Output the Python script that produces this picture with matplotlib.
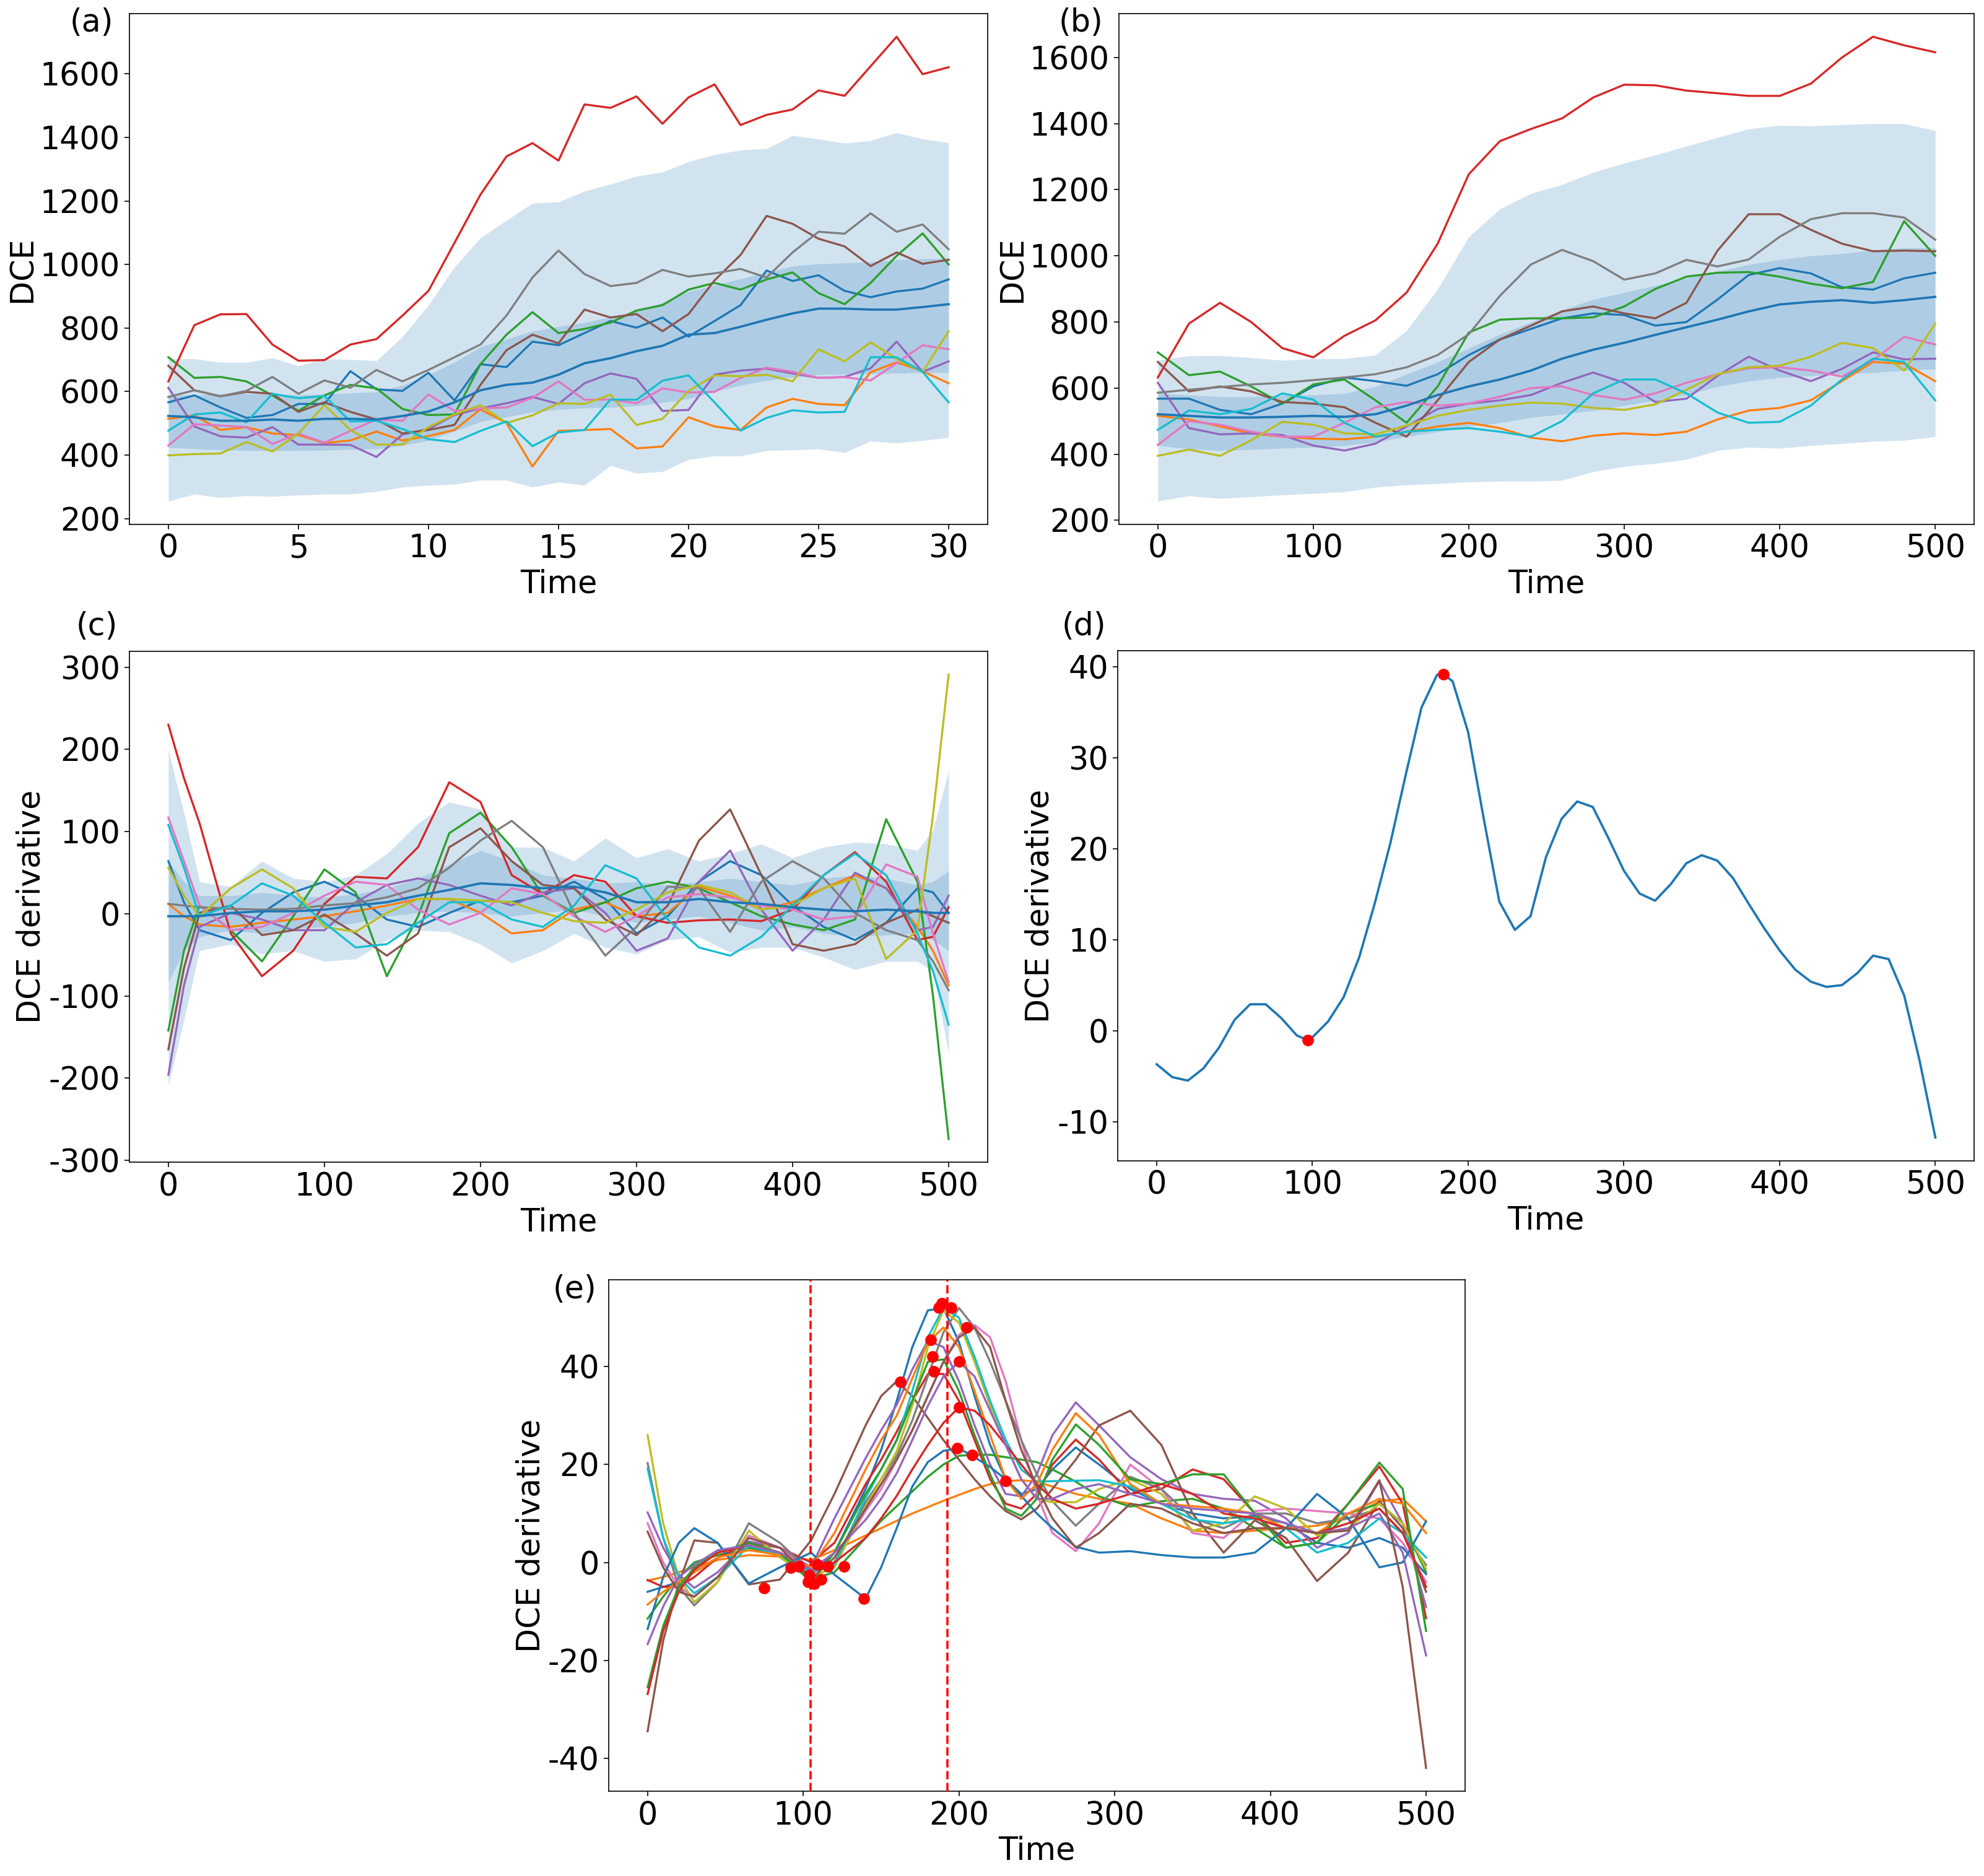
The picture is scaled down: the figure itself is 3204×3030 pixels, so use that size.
import numpy as np
import matplotlib
matplotlib.use("Agg")
import matplotlib.pyplot as plt

plt.rcParams["font.family"] = ["DejaVu Sans"]
plt.rcParams["font.size"] = 36.5
plt.rcParams["axes.unicode_minus"] = False
plt.rcParams["axes.linewidth"] = 1.2
plt.rcParams["xtick.major.size"] = 5.8
plt.rcParams["ytick.major.size"] = 5.8
plt.rcParams["xtick.major.width"] = 1.2
plt.rcParams["ytick.major.width"] = 1.2
plt.rcParams["xtick.major.pad"] = 5
plt.rcParams["ytick.major.pad"] = 5
plt.rcParams["lines.solid_joinstyle"] = "round"

# ---------------- panel (a): raw DCE curves, 31 time points ----------------
a_time = np.arange(31)
a_blue = [566, 588, 550, 517, 526, 561, 561, 664, 607, 602, 659, 572, 686, 677, 757, 746,
          784, 822, 801, 833, 773, 822, 872, 981, 948, 966, 917, 897, 915, 924, 953]
a_orange = [514, 525, 479, 488, 468, 463, 438, 446, 474, 446, 460, 479, 544, 501, 364, 476,
            479, 482, 421, 427, 519, 490, 479, 550, 577, 561, 557, 661, 692, 664, 626]
a_green = [708, 643, 646, 632, 588, 539, 588, 621, 610, 545, 526, 528, 686, 779, 850, 784,
           797, 817, 855, 872, 921, 942, 921, 953, 975, 910, 875, 942, 1027, 1098, 1000]
a_red = [632, 809, 843, 844, 748, 697, 699, 748, 765, 839, 917, 1068, 1220, 1340, 1382, 1327,
         1504, 1493, 1529, 1443, 1526, 1567, 1439, 1471, 1488, 1548, 1531, 1624, 1717, 1599, 1621]
a_purple = [612, 490, 459, 455, 488, 433, 433, 432, 394, 465, 482, 526, 547, 563, 583, 561,
            626, 657, 640, 539, 542, 653, 666, 672, 657, 643, 646, 673, 757, 662, 695]
a_brown = [681, 604, 585, 599, 593, 536, 566, 536, 512, 468, 479, 495, 621, 730, 779, 752,
           858, 833, 844, 790, 844, 950, 1030, 1153, 1128, 1081, 1057, 995, 1038, 1002, 1015]
a_pink = [430, 497, 493, 488, 435, 468, 439, 476, 512, 508, 591, 539, 547, 550, 580, 632,
          574, 575, 563, 610, 597, 599, 643, 675, 662, 643, 645, 635, 689, 746, 733]
a_gray = [583, 604, 585, 602, 646, 593, 635, 612, 668, 632, 668, 708, 748, 839, 959, 1044,
          970, 932, 942, 983, 962, 972, 986, 959, 1038, 1103, 1097, 1161, 1103, 1126, 1048]
a_olive = [399, 403, 405, 441, 411, 468, 557, 479, 433, 433, 488, 528, 557, 501, 525, 563,
           561, 590, 495, 514, 602, 651, 648, 653, 632, 733, 695, 755, 703, 662, 790]
a_cyan = [477, 528, 534, 503, 593, 579, 586, 506, 508, 482, 450, 441, 476, 506, 428, 471,
          479, 575, 574, 634, 651, 566, 477, 517, 541, 534, 536, 708, 708, 662, 566]
a_mean = [523, 519, 508, 508, 512, 508, 514, 514, 512, 523, 537, 566, 604, 621, 628, 653,
          689, 705, 727, 744, 779, 784, 804, 826, 846, 861, 861, 858, 858, 866, 875]
a_in_hi = [588, 590, 592, 594, 592, 590, 592, 595, 599, 620, 653, 692, 741, 765, 790, 805,
           817, 835, 855, 880, 915, 935, 955, 975, 995, 1002, 1005, 1008, 1015, 1018, 1019]
a_in_lo = [424, 420, 416, 414, 414, 414, 415, 418, 419, 430, 446, 475, 505, 520, 535, 544,
           548, 550, 555, 565, 577, 600, 620, 635, 645, 653, 655, 656, 658, 659, 659]
a_out_hi = [703, 703, 692, 692, 706, 681, 703, 701, 697, 773, 872, 992, 1084, 1139, 1193, 1197,
            1231, 1253, 1278, 1291, 1324, 1346, 1360, 1365, 1406, 1395, 1382, 1390, 1415, 1395, 1384]
a_out_lo = [255, 277, 266, 272, 270, 274, 277, 277, 285, 299, 305, 308, 321, 321, 299, 315,
            305, 367, 343, 348, 386, 397, 397, 414, 416, 419, 408, 444, 438, 446, 455]

# ---------------- panel (b): smoothed DCE curves ----------------
b_time = np.arange(0, 501, 20)
b_blue = [568, 568, 534, 521, 553, 605, 632, 621, 607, 642, 700, 747, 779, 811, 826, 821,
          789, 800, 868, 942, 963, 947, 905, 898, 932, 949]
b_orange = [516, 505, 484, 463, 453, 447, 445, 453, 468, 484, 495, 479, 450, 439, 456, 463,
            458, 468, 505, 532, 540, 563, 621, 679, 674, 621]
b_green = [708, 639, 650, 605, 553, 611, 626, 563, 495, 605, 768, 807, 811, 811, 814, 847,
           900, 937, 949, 951, 937, 916, 902, 921, 1105, 1000]
b_red = [632, 795, 858, 800, 721, 693, 758, 805, 889, 1037, 1247, 1347, 1384, 1416, 1479, 1518,
         1516, 1500, 1492, 1484, 1484, 1521, 1600, 1663, 1637, 1616]
b_purple = [616, 479, 460, 463, 458, 426, 411, 432, 484, 537, 553, 563, 579, 616, 647, 616,
            558, 568, 637, 695, 653, 621, 658, 708, 687, 689]
b_brown = [679, 590, 605, 590, 558, 553, 542, 495, 453, 563, 679, 747, 789, 832, 847, 826,
           811, 858, 1016, 1126, 1126, 1079, 1037, 1014, 1016, 1014]
b_pink = [428, 500, 489, 468, 453, 453, 495, 542, 558, 547, 553, 574, 600, 605, 579, 565,
          584, 616, 642, 660, 663, 653, 635, 684, 755, 732]
b_gray = [586, 595, 603, 611, 616, 624, 632, 642, 663, 700, 763, 879, 974, 1018, 984, 928,
          947, 988, 968, 989, 1058, 1111, 1129, 1129, 1116, 1049]
b_olive = [395, 414, 395, 442, 498, 489, 463, 460, 487, 516, 534, 547, 556, 553, 540, 534,
           551, 595, 642, 663, 668, 695, 737, 721, 653, 795]
b_cyan = [474, 532, 521, 537, 584, 565, 495, 453, 468, 474, 479, 468, 453, 500, 584, 626,
          626, 584, 526, 495, 498, 547, 626, 689, 679, 563]
b_mean = [521, 516, 511, 511, 513, 516, 513, 521, 547, 579, 605, 626, 653, 689, 716, 737,
          761, 784, 807, 832, 853, 861, 866, 858, 866, 876]
b_in_hi = [584, 579, 574, 574, 579, 579, 584, 605, 642, 679, 721, 763, 800, 837, 868, 889,
           911, 932, 953, 974, 989, 1000, 1007, 1018, 1024, 1024]
b_in_lo = [426, 416, 411, 414, 418, 421, 426, 437, 453, 468, 484, 495, 511, 521, 532, 547,
           563, 579, 605, 621, 632, 637, 642, 647, 653, 658]
b_out_hi = [684, 698, 698, 692, 684, 689, 689, 700, 774, 900, 1058, 1142, 1189, 1216, 1253, 1281,
            1305, 1332, 1358, 1384, 1395, 1393, 1397, 1400, 1400, 1379]
b_out_lo = [258, 274, 266, 271, 277, 281, 286, 300, 307, 311, 316, 318, 318, 321, 347, 363,
            372, 384, 411, 421, 418, 426, 432, 439, 442, 453]

# ---------------- panel (c): derivatives ----------------
c_time = [0, 10, 20, 40, 60, 80, 100, 120, 140, 160, 180, 200, 220, 240, 260, 280, 300, 320,
          340, 360, 380, 400, 420, 440, 460, 480, 490, 500]
c_blue = [64, 14, -20, -32, 1, 26, 39, 22, -7, -16, 1, 16, 14, 22, 39, 18, -24, -3, 39, 64,
          47, 10, -16, -32, -11, 31, 26, 1]
c_orange = [12, -3, -13, -16, -11, -7, -3, 3, 10, 18, 18, 1, -24, -20, 5, 14, -3, 1, 33, 22,
            5, 14, 31, 47, 31, -16, -45, -87]
c_green = [-142, -45, 10, -20, -58, -3, 54, 26, -76, -3, 98, 123, 81, 22, 1, 14, 31, 39, 31, 14,
           -3, -13, -20, -7, 115, 39, -100, -274]
c_red = [230, 165, 110, -24, -76, -45, 12, 45, 43, 81, 160, 136, 47, 24, 47, 39, -3, -11, -8, -7,
         -9, 5, 47, 75, 39, -32, -28, 8]
c_purple = [-196, -87, -16, 1, -7, -20, -20, 14, 35, 43, 35, 22, 10, 26, 31, 1, -45, -30, 39, 77,
            5, -45, -7, 50, 31, -20, -16, 22]
c_brown = [-165, -66, 1, 10, -26, -20, -1, -24, -51, -24, 81, 104, 64, 35, 31, -7, -26, 10, 89, 127,
           47, -37, -45, -37, -11, 5, -3, -11]
c_pink = [117, 64, 10, -20, -16, 1, 22, 39, 35, 5, -13, 1, 31, 24, -3, -22, -3, 20, 24, 20,
          10, 5, -7, -3, 60, 45, -24, -83]
c_gray = [12, 10, 8, 6, 5, 6, 10, 13, 20, 31, 56, 89, 113, 81, 1, -51, -16, 33, 31, -22,
          39, 64, 43, 1, -20, -32, -58, -93]
c_olive = [56, 22, -3, 31, 54, 31, -16, -22, 1, 18, 18, 16, 14, 1, -9, -11, 5, 26, 35, 26,
           5, 10, 31, 43, -55, -20, 120, 291]
c_cyan = [108, 56, -3, 10, 37, 22, -11, -41, -37, -11, 14, 14, -7, -16, 10, 59, 43, -7, -41, -51,
          -28, 10, 47, 73, 47, -24, -70, -135]
c_mean = [-3, -3, -3, 1, 3, 3, 5, 10, 14, 22, 29, 37, 35, 31, 33, 26, 14, 14, 18, 14,
          12, 8, 5, 3, 5, 3, 1, 1]
c_in_hi = [64, 39, 22, 22, 26, 22, 20, 24, 31, 43, 60, 77, 64, 47, 43, 37, 39, 35, 39, 43,
           39, 35, 43, 47, 43, 35, 39, 52]
c_in_lo = [-83, -45, -28, -20, -24, -18, -16, -11, -3, 1, 3, 1, -3, 1, 5, -3, -11, -7, -3, -11,
           -20, -16, -24, -28, -26, -24, -32, -45]
c_out_hi = [199, 123, 39, 33, 64, 43, 39, 47, 73, 110, 136, 127, 81, 81, 64, 92, 68, 79, 64, 73,
            85, 68, 81, 87, 85, 77, 102, 174]
c_out_lo = [-209, -129, -45, -37, -49, -45, -58, -55, -32, -20, -22, -37, -60, -45, -24, -41, -49, -32,
            -28, -47, -41, -41, -53, -68, -58, -58, -70, -170]

# ---------------- panel (d): one derivative curve ----------------
d_time = [0, 10, 20, 30, 40, 50, 60, 70, 80, 90, 97, 100, 110, 120, 130, 140, 150, 160, 170, 180,
          184, 190, 200, 210, 220, 230, 240, 250, 260, 270, 280, 290, 300, 310, 320, 330, 340,
          350, 360, 370, 380, 390, 400, 410, 420, 430, 440, 450, 460, 470, 480, 490, 500]
d_vals = [-3.66, -5.07, -5.45, -4.11, -1.83, 1.22, 2.93, 2.93, 1.41, -0.5, -1.0, -0.69, 1.03, 3.7,
          8.08, 14.0, 20.6, 28.2, 35.5, 39.1, 39.2, 38.4, 32.8, 23.3, 14.2, 11.1, 12.6, 19.1, 23.3,
          25.2, 24.6, 21.2, 17.6, 15.1, 14.3, 16.1, 18.4, 19.3, 18.7, 16.8, 14.0, 11.3, 8.84, 6.74,
          5.41, 4.84, 5.03, 6.36, 8.27, 7.89, 3.89, -3.35, -11.7]
d_dot_t = [97, 184]
d_dot_v = [-1.0, 39.2]

# ---------------- panel (e): derivative curves of all cases ----------------
e_time = [0, 10, 20, 30, 45, 65, 85, 105, 120, 140, 150, 160, 170, 180, 190, 200, 210, 220,
          230, 240, 250, 260, 275, 290, 310, 330, 350, 370, 390, 410, 430, 450, 470, 485, 500]
e_blue1 = [-6, -5, -4, -2, 1, 3, 1.5, -2.5, 2, 15, 23, 33, 44, 51.5, 52, 45, 34, 24, 17, 14, 15, 19,
           23.5, 20, 15, 12, 10, 9, 9.5, 8, 4, 3, 5, 3, -2.4]
e_orange1 = [-3.7, -3, -2, -1, 0.5, 1.5, 1.2, 0.5, 2.5, 5.5, 7, 8.5, 10, 11.3, 12.6, 13.8, 15, 16,
             16.6, 16.8, 16.5, 15.5, 14, 13, 12, 9, 6.5, 6, 6.5, 7, 7.5, 9, 12.5, 13, 8.4]
e_green1 = [-11.5, -7, -3, 0, 1.5, 3, 2, -3.5, -2, 5, 8.5, 11.5, 14.5, 17.5, 20, 21.8, 22, 22, 21.5,
            21, 20.5, 19, 16.5, 13.5, 11.4, 12.5, 13, 11, 7, 3, 4, 10, 12, 8, -2]
e_red1 = [-3.6, -5, -5, -3, 1, 4, 3, 0, 4, 16, 21, 26.7, 33, 38.5, 38.5, 33, 25, 17, 12, 11, 14, 20,
          25.1, 21, 14, 15, 19, 17, 10, 4, 5, 12, 19.6, 12, -11.4]
e_purple1 = [10.2, 3, -2.5, -5.2, -2, 4.3, 3, -1, 9, 21.3, 27, 32.2, 39.4, 45.3, 44, 37, 28, 20, 14,
             13.5, 18, 26, 32.7, 28, 21.5, 17, 14, 13, 12.6, 9, 3, 6, 16.6, 8, -9.1]
e_brown1 = [-34.5, -16, -4.3, 4.5, 4, -4.5, -3.5, 4.5, 14, 28, 34, 37, 34, 29.5, 25, 21, 17, 13.5,
            10.5, 8.8, 11, 15, 21, 28, 31, 24, 10, 2, 8.6, 5, -3.8, 2, 12.5, 7, -6]
e_pink = [8, 0, -5, -7, -3, 5.5, 3, -2.5, 0, 10.5, 15, 20.9, 27, 34, 41, 46.5, 48.5, 46, 37, 25, 14,
          6, 2.3, 8, 20, 15, 6, 5, 10.5, 11, 10.5, 10, 9, 4, -4]
e_gray = [20.3, 5, -5, -8.8, -4, 8, 4, -2, 0, 12.3, 17, 21.8, 29, 38, 47, 52, 48, 41, 33, 25, 18,
          12.5, 7.5, 12, 17.5, 15, 9, 7, 10, 10, 8, 9, 11, 6, -0.5]
e_olive = [26, 8, -3, -8.1, -4, 6.5, 1, -3, -1, 11.4, 17, 22.7, 32, 44, 51.5, 49, 41, 32, 24, 17,
           13, 12.3, 12.3, 15, 17, 14, 6.5, 8, 13.5, 11, 5.5, 7, 12, 8, -1.3]
e_cyan = [19.2, 5, -3, -6.3, -3, 3.4, 1.5, -2, -0.5, 13.2, 19, 25, 35, 46, 52, 50, 42, 33, 25, 19,
          16.5, 16.6, 16.7, 16.8, 15.5, 12, 8.8, 8, 9, 7, 2, 4, 9, 6, 1]
e_blue2 = [-13.6, -3, 4, 7, 4, -4.3, -1, 2, -2.5, -7.4, -1, 7, 15.5, 20.5, 22.8, 23.3, 21.5, 19.5,
           17, 13.6, 10, 7, 3.2, 2, 2.3, 1.5, 1, 1, 2, 7, 14, 9, -1, 0, 8.4]
e_orange2 = [-8.6, -6, -4, -2, 1, 2.5, 1.5, -1, 6, 19, 25, 30, 37.6, 45, 48, 44, 35, 26, 17, 13, 16,
             23, 30.5, 26, 16, 12, 11.5, 11, 10, 7, 6, 10, 13, 12, 6]
e_green2 = [-25.5, -13, -5, -1, 2, 4, 2, -4, 2, 14, 19, 25, 33, 41, 41.5, 35, 26, 18, 11, 9.5, 13,
            21, 28.2, 24, 17, 16, 18, 18, 10, 3, 4, 12, 20.4, 15, -14]
e_red2 = [-26.9, -14, -6, -1.5, 2, 3.5, 2, -1.5, 0, 5, 9, 13.6, 19, 24, 28.5, 31.7, 31, 28, 24, 20,
          16, 13, 11, 12, 14, 16, 14, 10, 9, 7, 6, 8, 11, 6, -5]
e_purple2 = [-16.7, -9, -3, -0.5, 2.5, 3.5, 2, -1.5, 2, 8.7, 13, 18.2, 25, 32, 38, 41, 38, 31, 24,
             17, 13, 13, 15, 16, 14, 12, 11, 10.5, 10, 8, 6, 7, 10, 2, -19]
e_brown2 = [6.3, -1, -6, -7, -3, 5, 3, -3.5, 1, 11, 16, 21, 27, 34, 41, 46, 48, 44, 33, 23, 15.5, 9,
            3, 6, 12, 11, 8, 6, 7, 7, 6, 6.5, 16.8, -5, -42]
e_dot_t = [187, 189, 195, 205, 182, 183, 200, 184, 162.5, 200, 199, 208.6, 230,
           75, 139, 92, 97, 104, 103, 107, 111.5, 116, 126, 109]
e_dot_v = [52.1, 53, 52.1, 48, 45.5, 42.1, 41, 39, 36.9, 31.7, 23.4, 22, 16.6,
           -5.2, -7.4, -1.1, -0.8, -2.6, -4, -4.4, -3.5, -0.8, -0.8, -0.4]
e_vlines = [104.5, 192.5]

tab = ["tab:blue", "tab:orange", "tab:green", "tab:red", "tab:purple",
       "tab:brown", "tab:pink", "tab:gray", "tab:olive", "tab:cyan"]
LW = 2.4


def draw_cases(ax, t, series, mean, in_lo, in_hi, out_lo, out_hi):
    ax.fill_between(t, out_lo, out_hi, color="tab:blue", alpha=0.2, lw=0, zorder=1)
    ax.fill_between(t, in_lo, in_hi, color="tab:blue", alpha=0.2, lw=0, zorder=1)
    for s, c in zip(series, tab):
        ax.plot(t, s, color=c, lw=LW, zorder=2)
    ax.plot(t, mean, color="tab:blue", lw=LW + 0.3, zorder=3)


fig = plt.figure(figsize=(32.04, 30.30), dpi=100)

ax_a = fig.add_axes([0.0652, 0.7205, 0.4326, 0.2723])
draw_cases(ax_a, a_time,
           [a_blue, a_orange, a_green, a_red, a_purple, a_brown, a_pink, a_gray, a_olive, a_cyan],
           a_mean, a_in_lo, a_in_hi, a_out_lo, a_out_hi)
ax_a.set_ylabel("DCE", labelpad=2)
ax_a.set_yticks([200, 400, 600, 800, 1000, 1200, 1400, 1600])

ax_b = fig.add_axes([0.5640, 0.7205, 0.4310, 0.2723])
draw_cases(ax_b, b_time,
           [b_blue, b_orange, b_green, b_red, b_purple, b_brown, b_pink, b_gray, b_olive, b_cyan],
           b_mean, b_in_lo, b_in_hi, b_out_lo, b_out_hi)
ax_b.set_ylabel("DCE", labelpad=2)
ax_b.set_yticks([200, 400, 600, 800, 1000, 1200, 1400, 1600])

ax_c = fig.add_axes([0.0652, 0.3805, 0.4326, 0.2723])
draw_cases(ax_c, c_time,
           [c_blue, c_orange, c_green, c_red, c_purple, c_brown, c_pink, c_gray, c_olive, c_cyan],
           c_mean, c_in_lo, c_in_hi, c_out_lo, c_out_hi)
ax_c.set_ylabel("DCE derivative", labelpad=2)
ax_c.set_yticks([-300, -200, -100, 0, 100, 200, 300])

ax_d = fig.add_axes([0.5634, 0.3813, 0.4317, 0.2718])
ax_d.plot(d_time, d_vals, color="tab:blue", lw=LW + 0.3)
ax_d.plot(d_dot_t, d_dot_v, "o", color="red", ms=12.5)
ax_d.set_ylabel("DCE derivative", labelpad=2)

ax_e = fig.add_axes([0.3068, 0.0452, 0.4316, 0.2726])
e_series = [e_blue1, e_orange1, e_green1, e_red1, e_purple1, e_brown1, e_pink, e_gray, e_olive,
            e_cyan, e_blue2, e_orange2, e_green2, e_red2, e_purple2, e_brown2]
for i, s in enumerate(e_series):
    ax_e.plot(e_time, s, color=tab[i % 10], lw=LW)
ax_e.plot(e_dot_t, e_dot_v, "o", color="red", ms=12.5, zorder=5)
for v in e_vlines:
    ax_e.axvline(v, color="red", ls="--", lw=2.6, zorder=6)
ax_e.set_ylabel("DCE derivative", labelpad=2)
ax_e.set_yticks([-40, -20, 0, 20, 40])

for ax in (ax_a, ax_b, ax_c, ax_d, ax_e):
    ax.set_xlabel("Time", labelpad=5)
for ax in (ax_b, ax_c, ax_d, ax_e):
    ax.set_xticks([0, 100, 200, 300, 400, 500])
ax_a.set_xticks([0, 5, 10, 15, 20, 25, 30])

fig.text(0.0571, 0.9878, "(a)", ha="right", va="center")
fig.text(0.5559, 0.9878, "(b)", ha="right", va="center")
fig.text(0.0593, 0.6660, "(c)", ha="right", va="center")
fig.text(0.5574, 0.6660, "(d)", ha="right", va="center")
fig.text(0.3006, 0.3125, "(e)", ha="right", va="center")

fig.savefig("out.png", dpi=100)
